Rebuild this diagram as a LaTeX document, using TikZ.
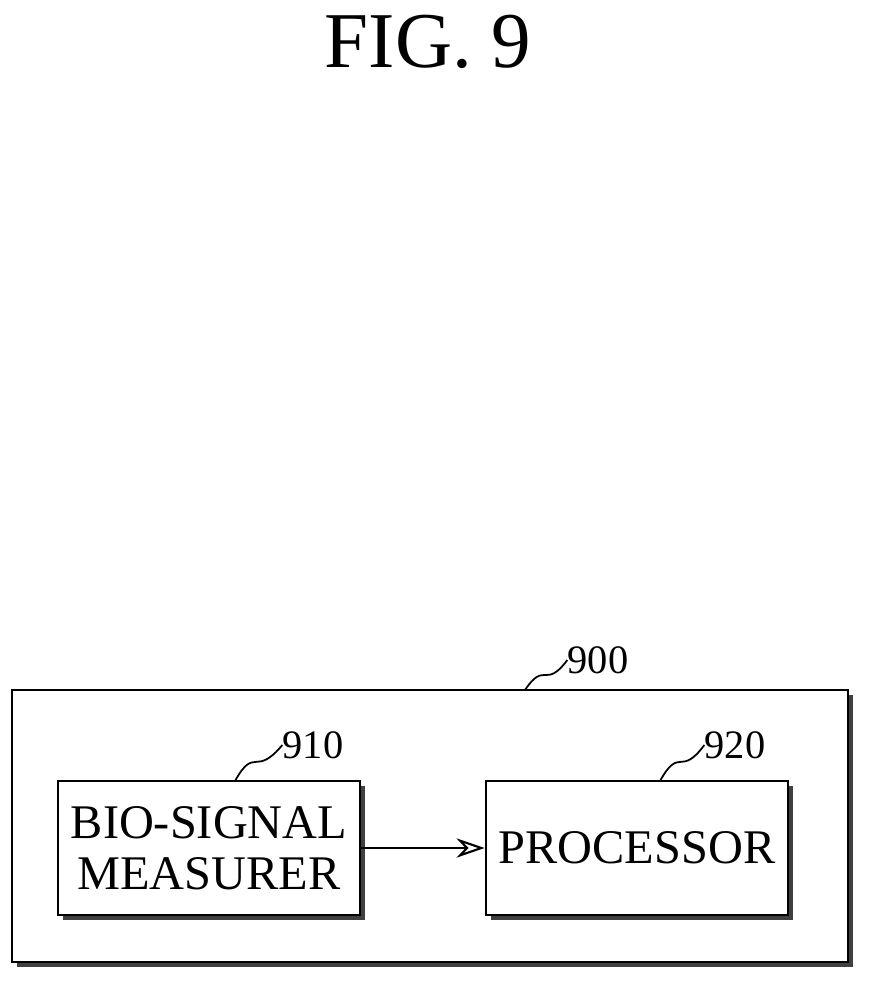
\documentclass[tikz,border=0pt]{standalone}
\usepackage{fontspec}
\setmainfont{Liberation Serif}
\usetikzlibrary{shadows,arrows.meta}
\begin{document}
\begin{tikzpicture}[x=0.02cm,y=-0.02cm,
  box/.style={draw,line width=1.6pt,fill=white,inner sep=0pt,
    drop shadow={shadow xshift=3pt,shadow yshift=-3pt,fill=black!75,opacity=1}},
  lbl/.style={font=\fontsize{23}{23}\selectfont,inner sep=0pt},
  lead/.style={line width=1pt}]
\useasboundingbox (0,0) rectangle (874,984);
\node[font=\fontsize{45}{45}\selectfont] (title) at (428,42) {FIG. 9};
\node[box,minimum width=836*0.02cm,minimum height=272*0.02cm] (outer) at (430,826) {};
\node[box,minimum width=302*0.02cm,minimum height=134*0.02cm,align=center,
  font=\fontsize{27.5}{29}\selectfont] (m) at (209,848) {BIO-SIGNAL\\MEASURER};
\node[box,minimum width=302*0.02cm,minimum height=134*0.02cm,
  font=\fontsize{27.5}{29}\selectfont] (p) at (637,848) {PROCESSOR};
\draw[line width=1.2pt,-{Stealth[length=16pt,width=11pt,open]}] (m.east) -- (p.west);
\node[lbl] (l900) at (598,660) {900};
\node[lbl] (l910) at (313,745) {910};
\node[lbl] (l920) at (735,745) {920};
\coordinate (c900) at (525,690);
\coordinate (c910) at (235,781);
\coordinate (c920) at (660,781);
\draw[lead] (c900) .. controls (545,660) and (545,690) .. (l900.west);
\draw[lead] (c910) .. controls (255,745) and (255,778) .. (l910.west);
\draw[lead] (c920) .. controls (680,745) and (680,778) .. (l920.west);
\end{tikzpicture}
\end{document}
